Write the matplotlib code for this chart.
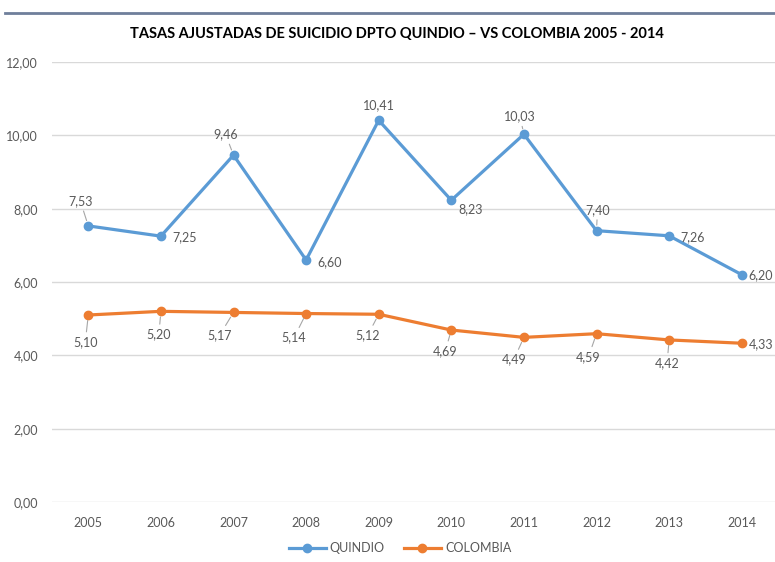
import matplotlib
matplotlib.use('Agg')
import matplotlib.pyplot as plt
from matplotlib.lines import Line2D

plt.rcParams['font.family'] = ['Lato', 'DejaVu Sans']

years = [2005, 2006, 2007, 2008, 2009, 2010, 2011, 2012, 2013, 2014]
quindio = [7.53, 7.25, 9.46, 6.60, 10.41, 8.23, 10.03, 7.40, 7.26, 6.20]
colombia = [5.10, 5.20, 5.17, 5.14, 5.12, 4.69, 4.49, 4.59, 4.42, 4.33]

# desplazamiento de las etiquetas (pixeles)
off_q = [(-8, 25), (24, -1), (-8, 21), (24, -2), (0, 15), (19, -9), (-4, 18), (1, 21), (24, -1), (19, 0)]
off_c = [(-3, -27), (-2, -23), (-14, -23), (-12, -24), (-11, -21), (-6, -21), (-10, -22), (-8, -23), (-2, -23), (19, -1)]

azul = '#5B9BD5'
naranja = '#ED7D31'
gris = '#595959'

fig = plt.figure(figsize=(7.75, 5.62), dpi=100)
ax = fig.add_axes([52 / 775, 1 - 502 / 562, (778 - 52) / 775, (502 - 62) / 562])

x = list(range(len(years)))
ax.plot(x, quindio, color=azul, lw=2.3, marker='o', ms=6, label='QUINDIO', zorder=3)
ax.plot(x, colombia, color=naranja, lw=2.3, marker='o', ms=6, label='COLOMBIA', zorder=3)

for serie, offs in ((quindio, off_q), (colombia, off_c)):
    for i, (v, (dx, dy)) in enumerate(zip(serie, offs)):
        txt = f'{v:.2f}'.replace('.', ',')
        props = None
        if abs(dy) >= 17:
            props = dict(arrowstyle='-', color='#A6A6A6', lw=0.8, shrinkA=1, shrinkB=4)
        ax.annotate(txt, (i, v), xytext=(dx, dy), textcoords='offset pixels',
                    ha='center', va='center', fontsize=9, color=gris,
                    arrowprops=props, annotation_clip=False, clip_on=False)

ax.set_xlim(-0.5, len(years) - 0.5)
ax.set_ylim(0, 12)
ax.set_yticks(range(0, 13, 2))
ax.set_yticklabels([f'{t:.2f}'.replace('.', ',') for t in range(0, 13, 2)])
ax.set_xticks(x)
ax.set_xticklabels([str(y) for y in years])
ax.tick_params(length=0, labelsize=9, labelcolor=gris)
ax.tick_params(axis='y', pad=10)
ax.tick_params(axis='x', pad=11)
ax.grid(axis='y', color='#D9D9D9', lw=1)
ax.set_axisbelow(True)
for s in ax.spines.values():
    s.set_visible(False)

fig.text(0.512, 1 - 34 / 562, 'TASAS AJUSTADAS DE SUICIDIO DPTO QUINDIO – VS COLOMBIA 2005 - 2014',
         ha='center', va='center', fontsize=10.5, fontweight='bold', color='black')

fig.add_artist(Line2D([5 / 775, 1], [1 - 13 / 562, 1 - 13 / 562], color='#6F7F9B', lw=2))

fig.legend(loc='center', bbox_to_anchor=(0.516, 1 - 548 / 562), ncol=2, frameon=False,
           fontsize=9, labelcolor=gris, handlelength=3, columnspacing=1.5, handletextpad=0.3)

fig.savefig('out.png', dpi=100)
